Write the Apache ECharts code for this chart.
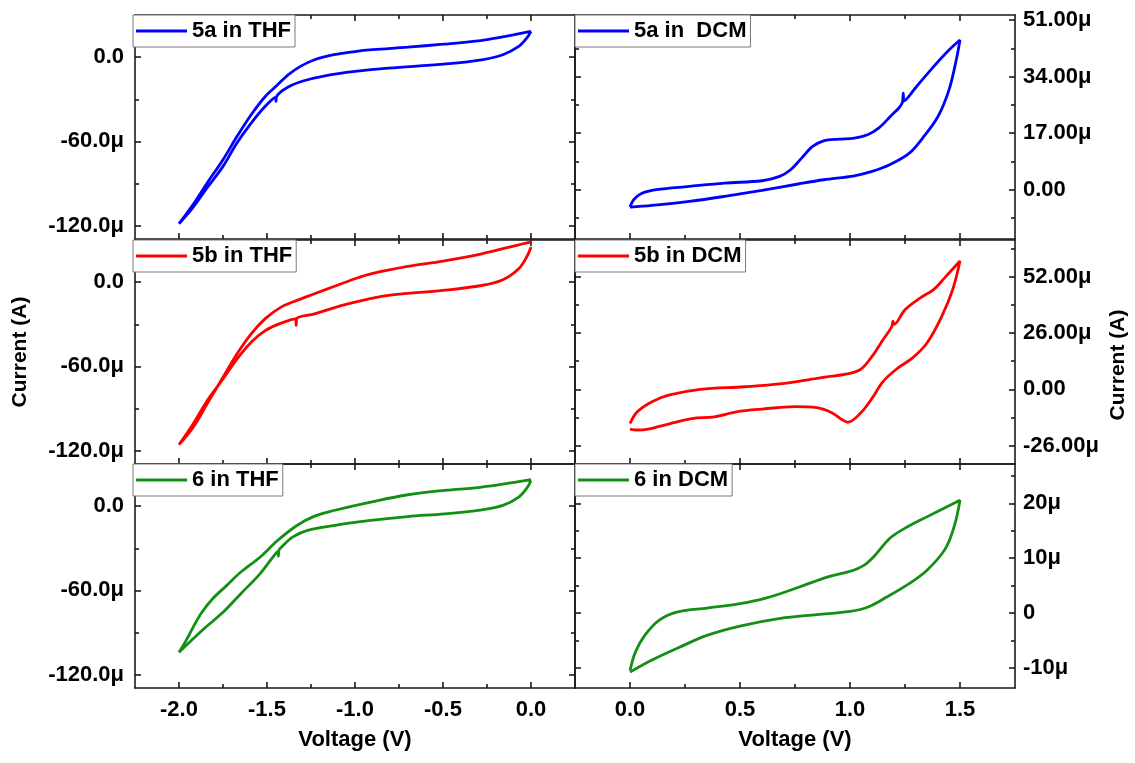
<!DOCTYPE html>
<html>
<head>
<meta charset="utf-8">
<title>CV 5a 5b 6 in THF / DCM</title>
<script src="https://cdn.jsdelivr.net/npm/echarts@6/dist/echarts.min.js"></script>
<style>
  html, body { margin: 0; padding: 0; background: #fff; }
  #main { width: 1135px; height: 763px; }
</style>
</head>
<body>
<div id="main"></div>
<script>
// each curve: [voltage (V), current (µA)], going round the loop
var thf5a = [[0,18.3],[-0.1,15.8],[-0.2,13.6],[-0.3,11.6],[-0.5,9.2],[-0.7,7.1],[-0.9,5.3],[-1.0,4.0],[-1.12,1.7],[-1.23,-1.9],
  [-1.31,-6.6],[-1.38,-12.6],[-1.44,-19.7],[-1.51,-28],[-1.59,-41],[-1.67,-56.4],[-1.75,-73],[-1.84,-89.6],[-1.92,-105],[-2.0,-118.6],
  [-1.92,-107],[-1.84,-93],[-1.75,-77.8],[-1.67,-61],[-1.59,-47],[-1.51,-35],[-1.452,-28.6],[-1.449,-31.5],[-1.446,-28.2],
  [-1.38,-21.3],[-1.29,-16.8],[-1.17,-13.3],[-1.0,-10.2],[-0.81,-7.8],[-0.5,-5.0],[-0.28,-1.9],[-0.16,1.7],[-0.07,7.6],[-0.02,14.2],[0,18.3]];
var dcm5a = [[0,-5.2],[0.017,-3.0],[0.05,-1.2],[0.12,0],[0.27,1.0],[0.43,2.0],[0.6,2.7],[0.68,4.0],[0.73,6.0],[0.78,9.5],[0.83,13],
  [0.88,14.7],[0.95,15.2],[1.02,15.5],[1.08,16.5],[1.13,18.5],[1.18,21.8],[1.238,26.2],[1.242,29],[1.246,26.7],[1.3,30.8],[1.38,37],
  [1.45,42],[1.5,45],[1.483,39],[1.45,30],[1.4,22],[1.33,15.5],[1.27,11],[1.18,7.5],[1.1,5.5],[1.02,4.2],[0.88,3.0],[0.77,1.8],
  [0.6,-0.2],[0.43,-2.0],[0.27,-3.5],[0.1,-4.7],[0,-5.2]];
var thf5b = [[0,28.5],[-0.07,26.6],[-0.28,20.2],[-0.5,15],[-0.7,11.2],[-0.91,5.9],[-1.0,2.4],[-1.12,-3.1],[-1.23,-8.3],[-1.33,-13],
  [-1.42,-17.8],[-1.51,-26],[-1.59,-36.8],[-1.67,-51],[-1.75,-67.7],[-1.84,-86.7],[-1.92,-103.4],[-2.0,-115.7],
  [-1.92,-101],[-1.84,-84.4],[-1.75,-69],[-1.67,-54.7],[-1.59,-42.8],[-1.51,-34.5],[-1.42,-29.2],[-1.337,-26.1],[-1.334,-30.8],
  [-1.331,-25.9],[-1.23,-22.6],[-1.12,-18.3],[-1.0,-14.3],[-0.81,-9.5],[-0.5,-5.9],[-0.28,-2.4],[-0.16,1.7],[-0.07,9.5],[-0.02,19],[0,25]];
var dcm5b = [[0,-15.8],[0.033,-10.4],[0.1,-5.7],[0.18,-2.6],[0.32,0],[0.52,1.2],[0.68,2.5],[0.85,5.1],[1.0,7.4],[1.05,9.3],[1.1,15.2],
  [1.15,22.9],[1.19,29],[1.195,31.5],[1.2,30],[1.25,36.8],[1.32,42.3],[1.38,46.1],[1.43,51.5],[1.5,59.3],
  [1.467,46.1],[1.417,33.7],[1.35,21.4],[1.283,14.4],[1.217,9.8],[1.15,3.6],[1.1,-4.2],[1.047,-11.1],[0.99,-15.2],[0.967,-14.2],
  [0.917,-10.8],[0.85,-8.5],[0.75,-8],[0.6,-9.1],[0.483,-10.4],[0.383,-12.7],[0.283,-13.5],[0.183,-15.8],[0.083,-18.4],[0.03,-18.8],[0,-18.4]];
var thf6 = [[0,18.8],[-0.28,13.5],[-0.49,11.2],[-0.7,8.1],[-0.91,2.9],[-1.12,-3.1],[-1.23,-7.1],[-1.33,-13.8],[-1.44,-24.5],
  [-1.54,-36.4],[-1.65,-47.1],[-1.73,-56.6],[-1.81,-66.1],[-1.87,-75.6],[-1.92,-86.3],[-1.96,-95.8],[-2.0,-104.1],
  [-1.86,-87.5],[-1.75,-75.6],[-1.65,-62.5],[-1.54,-48.2],[-1.46,-35.2],[-1.438,-32.2],[-1.435,-35.5],[-1.432,-31.4],[-1.418,-29.2],
  [-1.355,-22.1],[-1.27,-17.3],[-1.12,-13.8],[-0.91,-10.2],[-0.7,-7.4],[-0.49,-5.5],[-0.28,-2.6],[-0.16,0.5],[-0.07,6.4],[-0.02,13.5],[0,18.3]];
var dcm6 = [[0,-10.5],[0.025,-7.1],[0.067,-4.1],[0.133,-1.3],[0.217,0.2],[0.35,0.9],[0.5,1.7],[0.617,2.7],[0.767,4.7],[0.9,6.6],
  [1.0,7.6],[1.063,8.7],[1.113,10.5],[1.18,13.6],[1.247,15.4],[1.347,17.5],[1.5,20.6],
  [1.475,16],[1.433,11.7],[1.35,7.8],[1.267,5.3],[1.167,2.9],[1.083,1.1],[1.0,0.3],[0.85,-0.3],[0.683,-1.0],[0.5,-2.4],[0.35,-4.1],
  [0.217,-6.4],[0.1,-8.6],[0,-10.8]];

// ticks and labels
var xTicksTHF = [-2.0, -1.5, -1.0, -0.5, 0.0];
var xMinorTHF = [-1.75, -1.25, -0.75, -0.25];
var xLabelsTHF = ['-2.0', '-1.5', '-1.0', '-0.5', '0.0'];
var xTicksDCM = [0.0, 0.5, 1.0, 1.5];
var xMinorDCM = [0.25, 0.75, 1.25];
var xLabelsDCM = ['0.0', '0.5', '1.0', '1.5'];
var yTicksTHF = [-120, -60, 0];
var yMinorTHF = [-90, -30];
var yLabelsTHF = ['-120.0μ', '-60.0μ', '0.0'];
var yTicks5aDCM = [0, 17, 34, 51];
var yMinor5aDCM = [-8.5, 8.5, 25.5, 42.5];
var yLabels5aDCM = ['0.00', '17.00μ', '34.00μ', '51.00μ'];
var yTicks5bDCM = [-26, 0, 26, 52];
var yMinor5bDCM = [-13, 13, 39, 65];
var yLabels5bDCM = ['-26.00μ', '0.00', '26.00μ', '52.00μ'];
var yTicks6DCM = [-10, 0, 10, 20];
var yMinor6DCM = [-5, 5, 15, 25];
var yLabels6DCM = ['-10μ', '0', '10μ', '20μ'];

var FONT = '"Liberation Sans", Arial, sans-serif';
var BLUE = '#0000ff', RED = '#ff0000', GREEN = '#138f13';

var panels = [
  {name: '5a in THF',  data: thf5a, color: BLUE,  yr: [-129.5, 30],  yt: yTicksTHF,   ym: yMinorTHF,   yl: yLabelsTHF},
  {name: '5a in  DCM', data: dcm5a, color: BLUE,  yr: [-14.8, 52.5], yt: yTicks5aDCM, ym: yMinor5aDCM, yl: yLabels5aDCM},
  {name: '5b in THF',  data: thf5b, color: RED,   yr: [-129.5, 30],  yt: yTicksTHF,   ym: yMinorTHF,   yl: yLabelsTHF},
  {name: '5b in DCM',  data: dcm5b, color: RED,   yr: [-34.5, 69],   yt: yTicks5bDCM, ym: yMinor5bDCM, yl: yLabels5bDCM},
  {name: '6 in THF',   data: thf6,  color: GREEN, yr: [-129.5, 30],  yt: yTicksTHF,   ym: yMinorTHF,   yl: yLabelsTHF},
  {name: '6 in DCM',   data: dcm6,  color: GREEN, yr: [-13.7, 27.2], yt: yTicks6DCM,  ym: yMinor6DCM,  yl: yLabels6DCM}
];

var lineSt = {color: '#1a1a1a', width: 1.6};
var labelSt = {fontSize: 22, fontWeight: 'bold', color: '#000', fontFamily: FONT};

// one axis with major ticks (and maybe labels) + one with minor ticks on the same side
function sideAxes(g, pos, range, major, minor, labels, margin) {
  var a = {
    type: 'value', gridIndex: g, position: pos, min: range[0], max: range[1],
    splitLine: {show: false},
    axisLine: {show: true, onZero: false, lineStyle: lineSt},
    axisTick: {show: true, inside: true, length: 6, lineStyle: lineSt, customValues: major},
    axisLabel: {show: false}
  };
  if (labels) {
    a.axisLabel = {
      show: true, customValues: major, margin: margin,
      fontSize: 22, fontWeight: 'bold', color: '#000', fontFamily: FONT,
      formatter: function (v) {
        for (var i = 0; i < major.length; i++) {
          if (Math.abs(major[i] - v) < 1e-9) return labels[i];
        }
        return '';
      }
    };
  }
  var b = {
    type: 'value', gridIndex: g, position: pos, min: range[0], max: range[1],
    splitLine: {show: false},
    axisLine: {show: false, onZero: false},
    axisTick: {show: true, inside: true, length: 4, lineStyle: lineSt, customValues: minor},
    axisLabel: {show: false}
  };
  return [a, b];
}

var grids = [], xAxes = [], yAxes = [], legends = [], series = [];
var rowTop = [15, 240, 464];

panels.forEach(function (p, g) {
  var col = g % 2, row = Math.floor(g / 2);
  var left = col === 0 ? 135 : 575;
  grids.push({left: left, top: rowTop[row], width: 440, height: 224, outerBoundsMode: 'none'});

  var xr = col === 0 ? [-2.25, 0.25] : [-0.25, 1.75];
  var xt = col === 0 ? xTicksTHF : xTicksDCM;
  var xm = col === 0 ? xMinorTHF : xMinorDCM;
  var xl = col === 0 ? xLabelsTHF : xLabelsDCM;
  var bottom = sideAxes(g, 'bottom', xr, xt, xm, row === 2 ? xl : null, 11);
  if (row === 2) {
    bottom[0].name = 'Voltage (V)';
    bottom[0].nameLocation = 'middle';
    bottom[0].nameGap = 41;
    bottom[0].nameTextStyle = {fontSize: 22, fontWeight: 'bold', color: '#000', fontFamily: FONT};
  }
  var top = sideAxes(g, 'top', xr, xt, xm, null);
  xAxes.push(bottom[0], bottom[1], top[0], top[1]);

  var labelSide = col === 0 ? 'left' : 'right';
  var otherSide = col === 0 ? 'right' : 'left';
  var main = sideAxes(g, labelSide, p.yr, p.yt, p.ym, p.yl, col === 0 ? 11 : 8);
  if (row === 1) {
    main[0].name = 'Current (A)';
    main[0].nameLocation = 'middle';
    main[0].nameRotate = 90;
    main[0].nameGap = col === 0 ? 104 : 93;
    main[0].nameTextStyle = {fontSize: 21, fontWeight: 'bold', color: '#000', fontFamily: FONT,
      padding: col === 0 ? 0 : [0, 26, 0, 0]};
  }
  var other = sideAxes(g, otherSide, p.yr, p.yt, p.ym, null);
  yAxes.push(main[0], main[1], other[0], other[1]);

  legends.push({
    left: col === 0 ? 133 : 575, top: rowTop[row], data: [p.name], selectedMode: false,
    icon: 'rect', itemWidth: 51, itemHeight: 3, padding: [5, 4, 5, 3],
    borderColor: '#7a7a7a', borderWidth: 1, backgroundColor: '#fff',
    textStyle: labelSt
  });

  series.push({
    name: p.name, type: 'line', xAxisIndex: g * 4, yAxisIndex: g * 4,
    data: p.data, symbol: 'none', smooth: 0.35, color: p.color,
    lineStyle: {color: p.color, width: 2.8}
  });
});

var chart = echarts.init(document.getElementById('main'));
chart.setOption({
  backgroundColor: '#fff',
  animation: false,
  grid: grids,
  xAxis: xAxes,
  yAxis: yAxes,
  legend: legends,
  series: series
});
</script>
</body>
</html>
